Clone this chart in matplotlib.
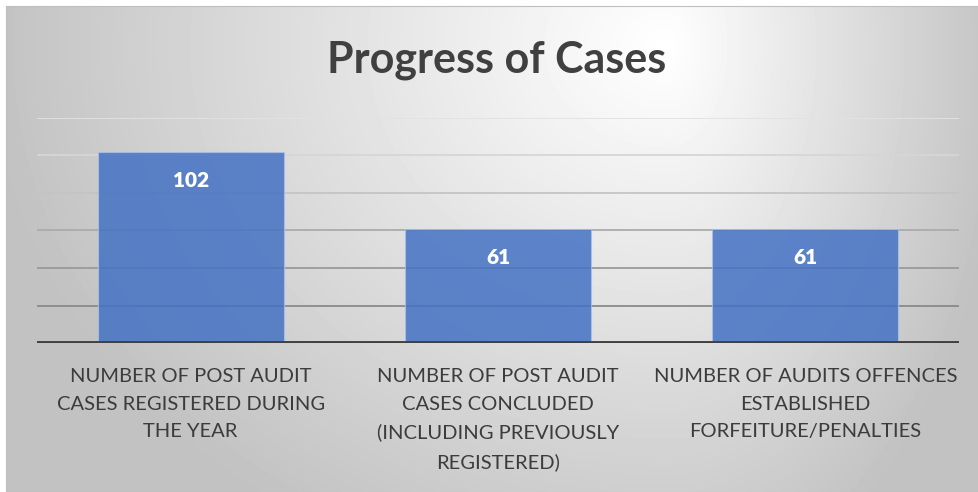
import matplotlib.pyplot as plt
import numpy as np

# Data
categories = [
    "NUMBER OF POST AUDIT\nCASES REGISTERED DURING\nTHE YEAR",
    "NUMBER OF POST AUDIT\nCASES CONCLUDED\n(INCLUDING PREVIOUSLY\nREGISTERED)",
    "NUMBER OF AUDITS OFFENCES\nESTABLISHED\nFORFEITURE/PENALTIES",
]
values = [102, 61, 61]
grid_ticks = [20, 40, 60, 80, 100, 120]

W, H = 979, 492
fig = plt.figure(figsize=(W / 100, H / 100), dpi=100)
fig.patch.set_facecolor("white")

# Background gradient of the chart area
bg = fig.add_axes([6 / W, 0, 1 - 6 / W, 1 - 6 / H])
xx, yy = np.meshgrid(np.arange(W - 6), np.arange(H - 6))
cx, cy = 660, 40
rx = np.where(xx < cx, 680.0, 340.0)
r = np.sqrt(((xx - cx) / rx) ** 2 + ((yy - cy) / 560.0) ** 2)
val = 1 - 0.24 * np.clip(r, 0, 1)
bg.imshow(val, cmap="gray", vmin=0, vmax=1, aspect="auto", interpolation="bilinear")
bg.set_xticks([])
bg.set_yticks([])
for s in bg.spines.values():
    s.set_color("#bfbfbf")
    s.set_linewidth(0.8)

# Plot area
ax = fig.add_axes([37 / W, (H - 343) / H, (959 - 37) / W, (343 - 118) / H])
ax.patch.set_alpha(0)
grid_colors = ["#8a8a8a", "#9a9a9a", "#ababab", "#c4c4c4", "#d6d6d6", "#e2e2e2"]
for t, c in zip(grid_ticks, grid_colors):
    ax.axhline(t, color=c, linewidth=1.3, zorder=1)

x = np.arange(len(values))
bars = ax.bar(x, values, width=0.605, color="#4472C4", alpha=0.85,
              edgecolor="#a9bfe6", linewidth=0.8, zorder=2)
for b, v in zip(bars, values):
    ax.text(b.get_x() + b.get_width() / 2, v - 15.5, str(v), ha="center", va="center",
            color="white", fontsize=15, fontweight="heavy", family="Lato", zorder=3)

ax.axhline(0, color="#404040", linewidth=2.8, zorder=3)
ax.set_ylim(0, 120)
ax.set_xlim(-0.5, 2.5)
ax.set_yticks([])
ax.set_xticks(x)
ax.set_xticklabels(categories, fontsize=14.5, color="#3c3c3c", family="Lato",
                   linespacing=1.75)
ax.tick_params(axis="x", length=0, pad=18)
for s in ax.spines.values():
    s.set_visible(False)

fig.text(497 / W, 1 - 60 / H, "Progress of Cases", ha="center", va="center",
         fontsize=31, fontweight="bold", color="#404040", family="Lato")

fig.savefig("out.png", dpi=100)
